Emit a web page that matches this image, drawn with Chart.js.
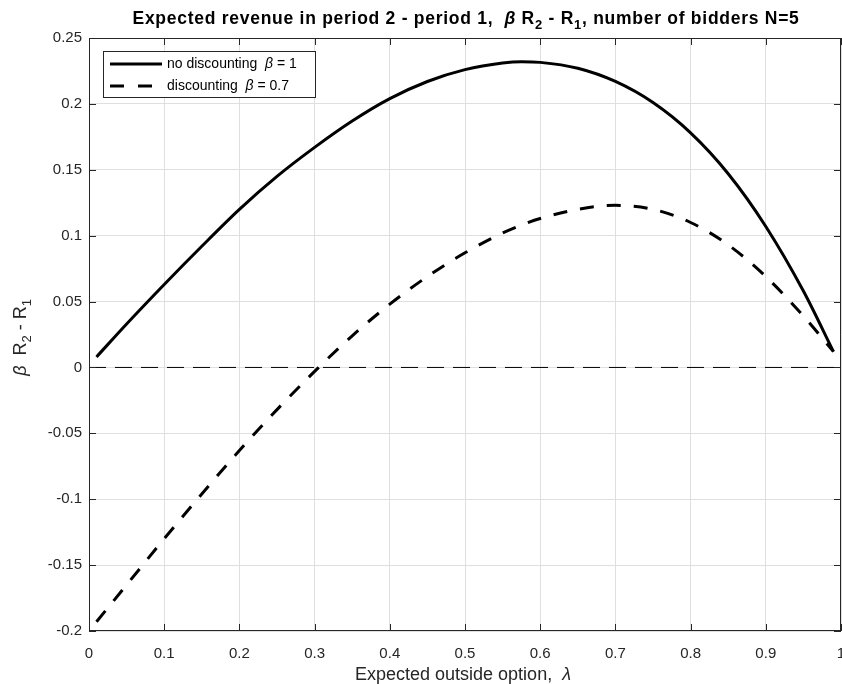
<!DOCTYPE html>
<html>
<head>
<meta charset="utf-8">
<script src="https://cdn.jsdelivr.net/npm/chart.js@4"></script>
<style>
  body { margin: 0; background: #fff; }
  canvas { display: block; }
</style>
</head>
<body>
<canvas id="graph-revenue" width="842" height="684"></canvas>
<script>
  // values
  const lambda = [0.01, 0.05, 0.1, 0.15, 0.2, 0.25, 0.3, 0.35, 0.4, 0.45, 0.5, 0.55, 0.575, 0.6, 0.65, 0.7, 0.75, 0.8, 0.85, 0.9, 0.95, 0.99];
  const noDiscount = [0.008, 0.033, 0.063, 0.092, 0.12, 0.145, 0.167, 0.187, 0.204, 0.217, 0.226, 0.231, 0.232, 0.2315, 0.227, 0.217, 0.201, 0.178, 0.147, 0.107, 0.058, 0.012];
  const discount = [-0.193, -0.165, -0.13, -0.096, -0.063, -0.032, -0.003, 0.024, 0.048, 0.069, 0.087, 0.102, 0.108, 0.113, 0.12, 0.123, 0.12, 0.11, 0.093, 0.069, 0.039, 0.012];
  const zeroX = [0, 1];
  const zeroY = [0, 0];
  const xTicks = [0, 0.1, 0.2, 0.3, 0.4, 0.5, 0.6, 0.7, 0.8, 0.9, 1];
  const yTicks = [-0.2, -0.15, -0.1, -0.05, 0, 0.05, 0.1, 0.15, 0.2, 0.25];

  const FONT = '"Liberation Sans", Arial, Helvetica, sans-serif';
  const AXIS = '#262626';

  const toPoints = (xs, ys) => xs.map((x, i) => ({ x: x, y: ys[i] }));

  function fontFor(p, size, weight) {
    return (p.italic ? 'italic ' : '') + weight + ' ' + (p.sub ? Math.round(size * 0.72) : size) + 'px ' + FONT;
  }

  // draws text pieces with subscripts / italics, centered on (x, y);
  // if target is given the letters are spread to that width
  function drawRich(ctx, parts, x, y, size, weight, target) {
    ctx.letterSpacing = '0px';
    let widths = parts.map(p => { ctx.font = fontFor(p, size, weight); return ctx.measureText(p.t).width; });
    let total = widths.reduce((a, b) => a + b, 0);
    if (target) {
      const n = parts.reduce((a, p) => a + p.t.length, 0);
      const extra = (target - total) / n;
      widths = parts.map((p, i) => widths[i] + extra * p.t.length);
      total = target;
      ctx.letterSpacing = extra.toFixed(2) + 'px';
    }
    let cx = x - total / 2;
    ctx.textAlign = 'left';
    ctx.textBaseline = 'alphabetic';
    parts.forEach((p, i) => {
      ctx.font = fontFor(p, size, weight);
      ctx.fillText(p.t, cx, y + (p.sub ? size * 0.3 : 0));
      cx += widths[i];
    });
    ctx.letterSpacing = '0px';
  }

  const decor = {
    id: 'matlabDecor',
    afterDatasetsDraw(chart) {
      const { ctx, chartArea: a, scales } = chart;
      ctx.save();
      ctx.strokeStyle = AXIS;
      ctx.lineWidth = 1;
      ctx.beginPath();
      xTicks.forEach(v => {
        const px = Math.round(scales.x.getPixelForValue(v)) + 0.5;
        ctx.moveTo(px, a.bottom); ctx.lineTo(px, a.bottom - 7);
        ctx.moveTo(px, a.top); ctx.lineTo(px, a.top + 7);
      });
      yTicks.forEach(v => {
        const py = Math.round(scales.y.getPixelForValue(v)) + 0.5;
        ctx.moveTo(a.left, py); ctx.lineTo(a.left + 7, py);
        ctx.moveTo(a.right, py); ctx.lineTo(a.right - 7, py);
      });
      ctx.stroke();
      ctx.strokeRect(Math.round(a.left) + 0.5, Math.round(a.top) + 0.5, Math.round(a.right - a.left) - 1, Math.round(a.bottom - a.top) - 1);
      ctx.restore();
    },
    afterDraw(chart) {
      const { ctx, chartArea: a } = chart;
      ctx.save();

      // title
      ctx.fillStyle = '#000';
      drawRich(ctx, [
        { t: 'Expected revenue in period 2 - period 1,  ' },
        { t: 'β', italic: true },
        { t: ' R' }, { t: '2', sub: true }, { t: ' - R' }, { t: '1', sub: true },
        { t: ', number of bidders N=5' }
      ], 466, 24, 17.5, 'bold', 667);

      // x label
      ctx.fillStyle = AXIS;
      drawRich(ctx, [{ t: 'Expected outside option,  ' }, { t: 'λ', italic: true }], 463, 680, 18, 'normal');

      // y label
      ctx.save();
      ctx.translate(26, (a.top + a.bottom) / 2 + 3);
      ctx.rotate(-Math.PI / 2);
      drawRich(ctx, [
        { t: 'β', italic: true }, { t: '  R' }, { t: '2', sub: true }, { t: ' - R' }, { t: '1', sub: true }
      ], 0, 0, 18, 'normal');
      ctx.restore();

      // legend
      const lx = 103, ly = 51, lw = 212, lh = 46;
      ctx.fillStyle = '#fff';
      ctx.fillRect(lx, ly, lw, lh);
      ctx.strokeStyle = AXIS;
      ctx.lineWidth = 1;
      ctx.strokeRect(lx + 0.5, ly + 0.5, lw, lh);
      const rows = [
        { dash: [], text: 'no discounting  ', val: ' = 1', y: ly + 13 },
        { dash: [14, 14], text: 'discounting  ', val: ' = 0.7', y: ly + 35 }
      ];
      rows.forEach(r => {
        ctx.strokeStyle = '#000';
        ctx.lineWidth = 3;
        ctx.setLineDash(r.dash);
        ctx.beginPath();
        ctx.moveTo(110, r.y); ctx.lineTo(162, r.y);
        ctx.stroke();
        ctx.setLineDash([]);
        ctx.fillStyle = '#000';
        ctx.textBaseline = 'middle';
        ctx.textAlign = 'left';
        ctx.font = '14px ' + FONT;
        let tx = 167;
        ctx.fillText(r.text, tx, r.y);
        tx += ctx.measureText(r.text).width;
        ctx.font = 'italic 14px ' + FONT;
        ctx.fillText('β', tx, r.y);
        tx += ctx.measureText('β').width;
        ctx.font = '14px ' + FONT;
        ctx.fillText(r.val, tx, r.y);
      });
      ctx.restore();
    }
  };

  const data = {
    datasets: [
      {
        label: 'zero',
        data: toPoints(zeroX, zeroY),
        borderColor: '#000',
        borderWidth: 1,
        borderDash: [17, 9],
        pointRadius: 0
      },
      {
        label: 'no discounting β = 1',
        data: toPoints(lambda, noDiscount),
        borderColor: '#000',
        borderWidth: 3,
        pointRadius: 0,
        cubicInterpolationMode: 'monotone'
      },
      {
        label: 'discounting β = 0.7',
        data: toPoints(lambda, discount),
        borderColor: '#000',
        borderWidth: 3,
        borderDash: [14, 13],
        pointRadius: 0,
        cubicInterpolationMode: 'monotone'
      }
    ]
  };

  const config = {
    type: 'line',
    data: data,
    options: {
      responsive: false,
      animation: false,
      layout: { padding: { top: 38, right: 1, left: 0, bottom: 0 } },
      plugins: {
        legend: { display: false },
        title: { display: false },
        tooltip: { enabled: false }
      },
      scales: {
        x: {
          type: 'linear',
          min: 0,
          max: 1,
          afterBuildTicks: (s) => { s.ticks = xTicks.map(v => ({ value: v })); },
          afterFit: (s) => { s.paddingLeft = 0; s.paddingRight = 0; s.height = 53; },
          grid: { color: '#dfdfdf', drawTicks: false },
          border: { display: false },
          ticks: {
            padding: 14,
            color: AXIS,
            font: { family: FONT, size: 15 },
            maxRotation: 0,
            autoSkip: false,
            callback: (v) => String(+v.toFixed(2))
          }
        },
        y: {
          min: -0.2,
          max: 0.25,
          afterBuildTicks: (s) => { s.ticks = yTicks.map(v => ({ value: v })); },
          afterFit: (s) => { s.paddingTop = 0; s.paddingBottom = 0; s.width = 89; },
          grid: { color: '#dfdfdf', drawTicks: false },
          border: { display: false },
          ticks: {
            padding: 7,
            color: AXIS,
            font: { family: FONT, size: 15 },
            autoSkip: false,
            callback: (v) => String(+v.toFixed(2))
          }
        }
      }
    },
    plugins: [decor]
  };

  const ctx = document.getElementById('graph-revenue').getContext('2d');
  new Chart(ctx, config);
</script>
</body>
</html>
